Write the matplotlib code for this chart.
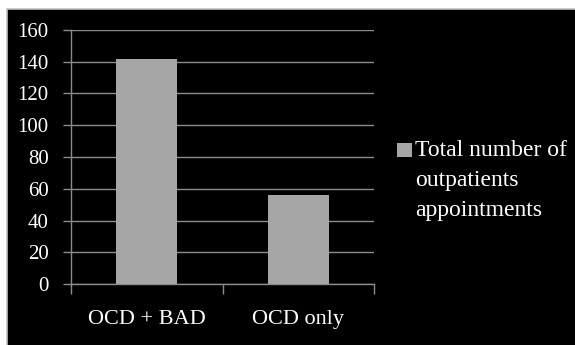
import matplotlib
matplotlib.use("Agg")
import matplotlib.pyplot as plt
from matplotlib.patches import Rectangle

categories = ["OCD + BAD", "OCD only"]
appointments = [142, 56]
y_ticks = [0, 20, 40, 60, 80, 100, 120, 140, 160]
series_label = "Total number of\noutpatients\nappointments"

W, H = 575, 345
plt.rcParams["font.family"] = ["Liberation Serif", "DejaVu Serif"]

fig = plt.figure(figsize=(W / 100, H / 100), dpi=100, facecolor="white")

# black slide panel with thin grey border
panel = Rectangle((7 / W, -0.01), 1.02, 1 - 9 / H + 0.01, transform=fig.transFigure,
                  facecolor="black", edgecolor="#c0c0c0", linewidth=1.2, zorder=-5)
fig.patches.append(panel)

grey = "#8c8c8c"
bar_col = "#a6a6a6"

ax = fig.add_axes([71 / W, (H - 284) / H, 303 / W, 254 / H])
ax.set_zorder(2)
ax.set_facecolor("none")
x = list(range(len(categories)))
ax.bar(x, appointments, width=0.4, color=bar_col, zorder=3)

ax.set_xlim(-0.5, len(categories) - 0.5)
ax.set_ylim(0, 160)
ax.set_yticks(y_ticks)
ax.set_yticklabels([str(v) for v in y_ticks])
ax.set_xticks(x)
ax.set_xticklabels(categories)
ax.set_xticks([i - 0.5 for i in range(len(categories) + 1)], minor=True)

ax.grid(axis="y", color=grey, linewidth=1.0, zorder=1)
for s in ["top", "right"]:
    ax.spines[s].set_visible(False)
for s in ["left", "bottom"]:
    ax.spines[s].set_color(grey)
    ax.spines[s].set_linewidth(1.0)

ax.tick_params(axis="y", colors=grey, length=6, width=1.0, pad=10, labelsize=15,
               labelcolor="white")
ax.tick_params(axis="x", which="major", length=0, pad=19, labelsize=16,
               labelcolor="white")
ax.tick_params(axis="x", which="minor", length=7, width=1.0, color=grey)

# legend key and text
fig.patches.append(Rectangle((397 / W, 1 - 157 / H), 15 / W, 14 / H,
                             transform=fig.transFigure, facecolor=bar_col,
                             edgecolor="none", zorder=5))
fig.text(415 / W, 1 - 140 / H, series_label, color="white", fontsize=17,
         va="top", ha="left", linespacing=1.55, zorder=5)

fig.savefig("out.png", dpi=100, facecolor="white")
